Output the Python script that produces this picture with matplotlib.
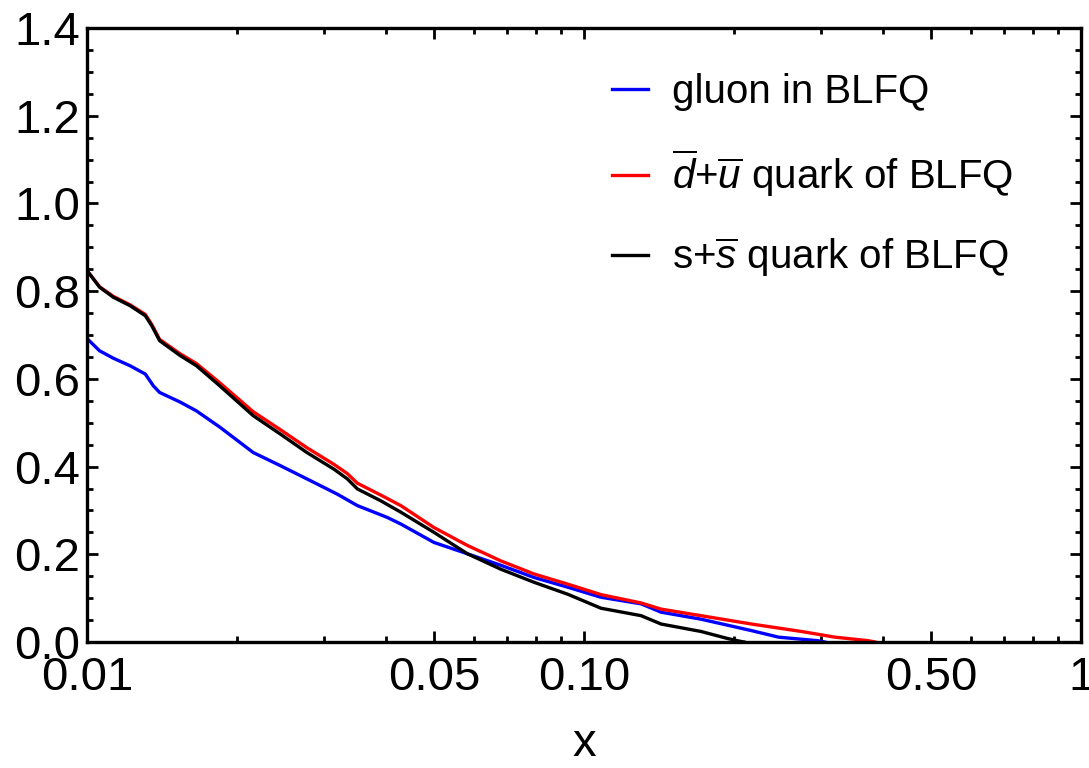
"""BLFQ sea-quark and gluon distributions on a log-x axis."""

import matplotlib

matplotlib.use("Agg")
import matplotlib.pyplot as plt
from matplotlib.ticker import FixedLocator, NullFormatter

plt.rcParams["font.family"] = ["Liberation Sans", "DejaVu Sans"]
plt.rcParams["mathtext.fontset"] = "custom"
plt.rcParams["mathtext.rm"] = "Liberation Sans"
plt.rcParams["mathtext.it"] = "Liberation Sans:italic"

# values
gluon_x = [0.0100, 0.0106, 0.0113, 0.0122, 0.0131, 0.0136, 0.0140, 0.0154, 0.0166,
           0.0185, 0.0216, 0.0245, 0.0286, 0.0319, 0.0350, 0.0402, 0.0428, 0.0499,
           0.0583, 0.0680, 0.0794, 0.0927, 0.1082, 0.1303, 0.1429, 0.1720, 0.2172,
           0.2464, 0.2953, 0.3050]
gluon_y = [0.692, 0.664, 0.647, 0.630, 0.611, 0.584, 0.569, 0.547, 0.527,
           0.490, 0.432, 0.402, 0.364, 0.337, 0.311, 0.284, 0.269, 0.227,
           0.201, 0.175, 0.147, 0.125, 0.102, 0.087, 0.068, 0.052, 0.026,
           0.011, 0.003, 0.000]

antiud_x = [0.0100, 0.0106, 0.0113, 0.0122, 0.0131, 0.0135, 0.0140, 0.0154, 0.0166,
            0.0185, 0.0216, 0.0245, 0.0277, 0.0314, 0.0334, 0.0350, 0.0390, 0.0428,
            0.0499, 0.0583, 0.0680, 0.0794, 0.0927, 0.1082, 0.1303, 0.1429, 0.1720,
            0.2172, 0.2738, 0.3199, 0.3733, 0.3850]
antiud_y = [0.847, 0.810, 0.788, 0.769, 0.747, 0.724, 0.690, 0.657, 0.635,
            0.591, 0.525, 0.484, 0.443, 0.405, 0.384, 0.362, 0.335, 0.311,
            0.261, 0.220, 0.185, 0.155, 0.132, 0.108, 0.089, 0.075, 0.060,
            0.041, 0.024, 0.011, 0.003, 0.000]

strange_x = [0.0100, 0.0106, 0.0113, 0.0122, 0.0131, 0.0135, 0.0140, 0.0154, 0.0166,
             0.0185, 0.0216, 0.0245, 0.0277, 0.0314, 0.0334, 0.0350, 0.0390, 0.0428,
             0.0499, 0.0583, 0.0680, 0.0794, 0.0927, 0.1082, 0.1303, 0.1429, 0.1720,
             0.1944, 0.2054, 0.2100]
strange_y = [0.847, 0.809, 0.786, 0.767, 0.744, 0.721, 0.687, 0.653, 0.630,
             0.584, 0.516, 0.474, 0.432, 0.394, 0.372, 0.349, 0.322, 0.296,
             0.250, 0.201, 0.166, 0.136, 0.109, 0.077, 0.060, 0.041, 0.024,
             0.008, 0.002, 0.000]

x_major = [0.01, 0.05, 0.1, 0.5, 1.0]
x_major_labels = ["0.01", "0.05", "0.10", "0.50", "1"]
x_minor = [0.02, 0.03, 0.04, 0.06, 0.07, 0.08, 0.09,
           0.2, 0.3, 0.4, 0.6, 0.7, 0.8, 0.9]
y_major = [0.0, 0.2, 0.4, 0.6, 0.8, 1.0, 1.2, 1.4]
y_minor = [v / 20 for v in range(29) if v % 4 != 0]


def main():
    fig = plt.figure(figsize=(10.89, 7.68), dpi=100)
    ax = fig.add_axes([87 / 1089, 1 - 642 / 768, (1081 - 87) / 1089, (642 - 28) / 768])

    ax.plot(gluon_x, gluon_y, color="#0000ff", lw=2.4, label="gluon in BLFQ")
    ax.plot(antiud_x, antiud_y, color="#ff0000", lw=2.4,
            label=r"$\overline{d}$+$\overline{u}$ quark of BLFQ")
    ax.plot(strange_x, strange_y, color="black", lw=2.4,
            label=r"s+$\overline{s}$ quark of BLFQ")

    ax.set_xscale("log")
    ax.set_xlim(0.01, 1.0)
    ax.set_ylim(0.0, 1.4)

    ax.xaxis.set_major_locator(FixedLocator(x_major))
    ax.set_xticklabels(x_major_labels)
    ax.xaxis.set_minor_locator(FixedLocator(x_minor))
    ax.xaxis.set_minor_formatter(NullFormatter())
    ax.yaxis.set_major_locator(FixedLocator(y_major))
    ax.set_yticklabels([f"{v:.1f}" for v in y_major])
    ax.yaxis.set_minor_locator(FixedLocator(y_minor))

    ax.tick_params(which="both", direction="in", top=True, right=True,
                   labelsize=34, width=2, pad=5)
    ax.tick_params(which="major", length=8)
    ax.tick_params(which="minor", length=4)
    ax.tick_params(axis="x", pad=10)
    for spine in ax.spines.values():
        spine.set_linewidth(2.4)

    ax.set_xlabel("x", fontsize=34, labelpad=16)

    ax.legend(loc="upper left", bbox_to_anchor=(612 / 1089, 1 - 73 / 768),
              bbox_transform=fig.transFigure, frameon=False,
              fontsize=29, handlelength=0.9, handletextpad=0.6,
              labelspacing=0.9, borderaxespad=0.0, borderpad=0.0)

    fig.savefig("out.png", dpi=100)
    plt.close(fig)


if __name__ == "__main__":
    main()
